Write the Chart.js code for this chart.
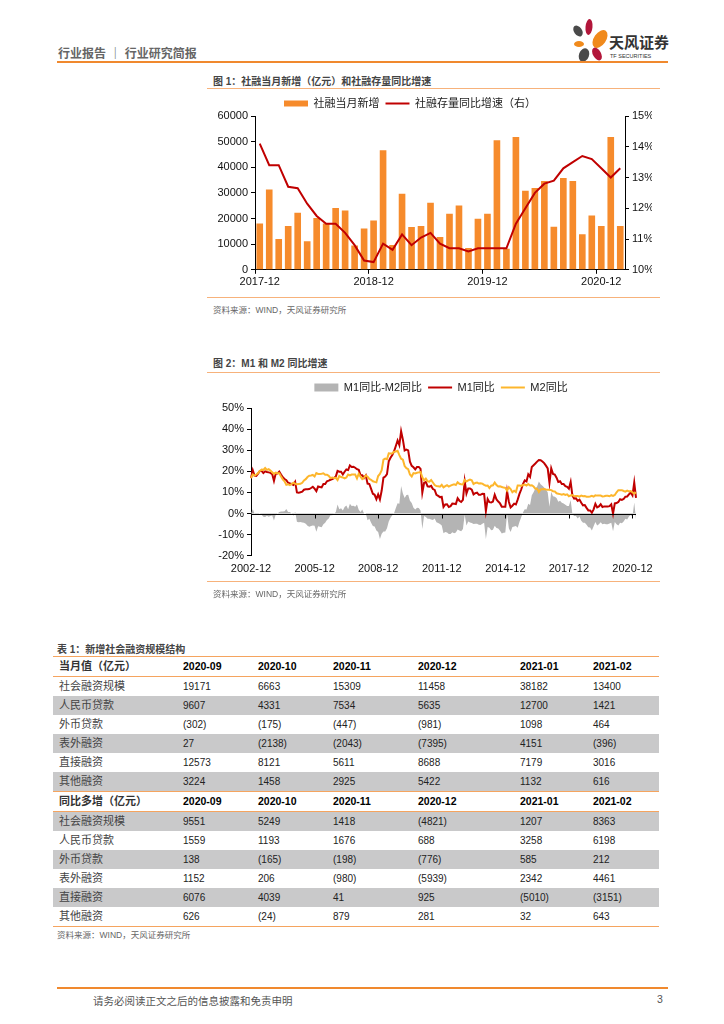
<!DOCTYPE html>
<html lang="zh-CN">
<head>
<meta charset="utf-8">
<title>行业研究简报</title>
<script src="https://cdn.jsdelivr.net/npm/chart.js@4.4.1/dist/chart.umd.min.js"></script>
<style>
  html, body { margin: 0; padding: 0; background: #fff; }
  body { width: 724px; height: 1024px; position: relative; overflow: hidden;
         font-family: "Liberation Sans", "Noto Sans CJK SC", sans-serif; color: #333; }
  .hdr { position: absolute; left: 58px; top: 44px; font-size: 12px; font-weight: bold; color: #666; }
  .rule { position: absolute; left: 57px; width: 611px; height: 2px; background: #F0892E; }
  .thin { position: absolute; left: 207px; width: 453px; height: 1px; background: #F7B27B; }
  .ftitle { position: absolute; font-size: 10px; font-weight: bold; color: #444; }
  .src { position: absolute; font-size: 8.5px; color: #666; }
  .logo { position: absolute; left: 568px; top: 18px; }
  canvas { position: absolute; }
  table { position: absolute; left: 53px; top: 656px; width: 606px; border-collapse: collapse;
          table-layout: fixed; font-size: 10px; }
  td { height: 19px; padding: 0 0 0 5px; line-height: 19px; white-space: nowrap; color: #222; }
  td.name { padding-left: 6px; font-size: 11px; color: #444; }
  tr.head td { font-weight: bold; font-size: 10.5px; color: #000;
               border-top: 1px solid #F5A45F; border-bottom: 1px solid #F5A45F; }
  tr.head td.name { font-size: 11px; color: #333; }
  tr.grey td { background: #C9C9CA; }
  tr.last td { border-bottom: 1px solid #F5A45F; }
  .foot { position: absolute; top: 993px; font-size: 10.5px; color: #555; }
</style>
</head>
<body>

<div class="hdr">行业报告 ｜ 行业研究简报</div>
<svg class="logo" width="104" height="46" viewBox="0 0 104 46">
  <ellipse cx="10" cy="13" rx="4" ry="6" transform="rotate(-35 10 13)" fill="#4A4A4A"/>
  <ellipse cx="21" cy="9" rx="3.5" ry="8" transform="rotate(5 21 9)" fill="#B2163A"/>
  <ellipse cx="32" cy="21" rx="6" ry="10" transform="rotate(35 32 21)" fill="#F08A1C"/>
  <ellipse cx="11" cy="26" rx="5" ry="3" fill="#F08A1C"/>
  <ellipse cx="16" cy="37" rx="5" ry="7" transform="rotate(20 16 37)" fill="#4A4A4A"/>
  <ellipse cx="29" cy="36" rx="4" ry="7" transform="rotate(-30 29 36)" fill="#B2163A"/>
  <text x="41" y="30" font-size="15" font-weight="bold" fill="#333" font-family="Noto Sans CJK SC">天风证券</text>
  <text x="42" y="40" font-size="5.5" fill="#333" font-family="Liberation Sans">TF SECURITIES</text>
</svg>
<div class="rule" style="top:61px"></div>

<div class="ftitle" style="left:213px; top:73px">图 1：社融当月新增（亿元）和社融存量同比增速</div>
<div class="thin" style="top:88px"></div>
<canvas id="sfChart" width="484" height="202" style="left:168px; top:92px"></canvas>
<div class="thin" style="top:297px"></div>
<div class="src" style="left:213px; top:303px">资料来源：WIND，天风证券研究所</div>

<div class="ftitle" style="left:213px; top:355px">图 2：M1 和 M2 同比增速</div>
<div class="thin" style="top:372px"></div>
<canvas id="moneyChart" width="472" height="210" style="left:205px; top:376px"></canvas>
<div class="thin" style="top:581px"></div>
<div class="src" style="left:213px; top:587px">资料来源：WIND，天风证券研究所</div>

<div class="ftitle" style="left:57px; top:641px">表 1：新增社会融资规模结构</div>
<table id="sfTable"></table>
<div class="src" style="left:57px; top:928px">资料来源：WIND，天风证券研究所</div>

<div class="rule" style="top:987px"></div>
<div class="foot" style="left:93px">请务必阅读正文之后的信息披露和免责申明</div>
<div class="foot" style="left:657px">3</div>

<script>
// 图1：社融当月新增（亿元），社融存量同比（%），2017-12 起
const sfNew = [18100, 31300, 12000, 17100, 22300, 11100, 20200, 18100, 24100, 23100, 9500, 16100,
  19200, 46600, 9700, 29700, 16700, 17100, 26200, 12800, 21900, 25100, 8500, 19900,
  21900, 50500, 8200, 51800, 30800, 31900, 34600, 16800, 35800, 34600, 13900, 21200,
  17100, 51800, 17100];
const sfStockYoy = [14.1, 13.4, 13.4, 12.7, 12.65, 12.15, 11.75, 11.5, 11.5, 11.2, 10.8, 10.3,
  10.25, 10.85, 10.65, 11.15, 10.8, 11.05, 11.2, 10.85, 10.7, 10.7, 10.6, 10.7,
  10.7, 10.7, 10.7, 11.5, 12.0, 12.5, 12.8, 12.9, 13.3, 13.5, 13.7, 13.6,
  13.3, 13.0, 13.3];

// 图2：M1、M2 同比（%），2002-12 至 2021-02
const m1Yoy = [16.8,
  20.5, 18.0, 17.8, 18.9, 20.2, 20.2, 19.2, 20.0, 19.7, 19.5, 19.3, 18.7,
  15.5, 19.0, 19.0, 19.9, 18.5, 17.2, 16.4, 15.8, 14.6, 14.3, 14.0, 13.6,
  15.0, 10.0, 9.9, 10.1, 10.4, 11.3, 11.5, 11.5, 11.6, 12.1, 12.7, 11.8,
  10.6, 12.8, 12.6, 12.4, 14.0, 14.0, 15.3, 15.6, 16.0, 16.3, 16.8, 17.5,
  20.2, 19.8, 19.8, 18.5, 19.8, 20.9, 20.6, 22.8, 22.1, 22.2, 21.7, 21.0,
  20.7, 18.2, 18.2, 16.9, 18.1, 14.2, 14.0, 11.7, 9.4, 8.9, 6.8, 9.1,
  6.7, 10.9, 17.0, 17.5, 18.7, 24.8, 26.4, 27.7, 29.5, 32.0, 34.6, 32.4,
  39.0, 35.0, 29.9, 30.3, 29.9, 24.6, 22.6, 21.9, 20.9, 22.1, 22.1, 21.2,
  9.9, 14.5, 15.0, 12.9, 12.7, 13.1, 11.6, 11.2, 8.9, 8.4, 7.8, 7.9,
  3.1, 4.3, 4.4, 3.1, 3.5, 4.7, 4.6, 4.5, 7.3, 6.1, 5.5, 6.5,
  15.3, 9.5, 11.9, 11.9, 11.3, 9.1, 9.7, 9.9, 8.9, 8.9, 9.4, 9.3,
  1.2, 6.9, 5.4, 5.3, 5.7, 8.9, 6.7, 5.7, 4.8, 3.2, 3.2, 3.2,
  10.6, 5.6, 2.9, 3.7, 4.7, 4.3, 6.6, 9.3, 11.4, 14.0, 15.7, 15.2,
  18.6, 17.4, 22.1, 22.9, 23.7, 24.6, 25.4, 25.3, 24.7, 23.9, 22.7, 21.4,
  14.5, 21.4, 18.8, 18.5, 17.0, 15.0, 15.3, 14.0, 14.0, 13.0, 12.7, 11.8,
  15.0, 8.5, 7.1, 7.2, 6.0, 6.6, 5.1, 3.9, 4.0, 2.7, 1.5, 1.5,
  0.4, 2.0, 4.6, 2.9, 3.4, 4.4, 3.1, 3.4, 3.4, 3.3, 3.5, 4.4,
  0.0, 4.8, 5.0, 5.5, 6.8, 6.5, 6.9, 8.0, 8.1, 9.1, 10.0, 8.6,
  14.7, 7.4];
const m2Yoy = [16.8,
  18.5, 18.0, 18.5, 19.2, 20.2, 20.8, 20.7, 21.6, 20.7, 21.0, 20.4, 19.6,
  18.8, 19.4, 19.1, 19.1, 17.5, 16.2, 15.3, 13.6, 13.9, 13.5, 14.0, 14.6,
  14.1, 13.9, 14.0, 14.1, 14.6, 15.7, 16.3, 17.3, 17.9, 18.0, 18.3, 17.6,
  19.2, 18.8, 18.8, 18.9, 19.1, 18.4, 18.4, 17.9, 16.8, 17.1, 16.8, 16.9,
  15.9, 17.8, 17.3, 17.1, 16.7, 17.1, 18.5, 18.1, 18.5, 18.5, 18.5, 16.7,
  18.9, 17.5, 16.3, 16.9, 18.1, 17.4, 16.4, 16.0, 15.3, 15.0, 14.8, 17.8,
  18.8, 20.5, 25.5, 26.0, 25.7, 28.5, 28.4, 28.5, 29.3, 29.4, 29.7, 27.7,
  26.0, 25.5, 22.5, 21.5, 21.0, 18.5, 17.6, 19.2, 19.0, 19.3, 19.5, 19.7,
  17.2, 15.7, 16.6, 15.3, 15.1, 15.9, 14.7, 13.5, 13.0, 12.9, 12.7, 13.6,
  12.4, 13.0, 13.4, 12.8, 13.2, 13.6, 13.9, 13.5, 14.8, 14.1, 13.9, 13.8,
  15.9, 15.2, 15.7, 16.1, 15.8, 14.0, 14.5, 14.7, 14.2, 14.3, 14.2, 13.6,
  13.2, 13.3, 12.1, 13.2, 13.4, 14.7, 13.5, 12.8, 12.9, 12.6, 12.3, 12.2,
  10.8, 12.5, 11.6, 10.1, 10.8, 10.2, 13.3, 13.3, 13.1, 13.5, 13.7, 13.3,
  14.0, 13.3, 13.4, 12.8, 11.8, 11.8, 10.2, 11.4, 11.5, 11.6, 11.4, 11.3,
  11.3, 11.1, 10.6, 10.5, 9.6, 9.4, 9.2, 8.9, 9.2, 8.8, 9.1, 8.2,
  8.6, 8.8, 8.2, 8.3, 8.3, 8.0, 8.5, 8.2, 8.3, 8.0, 8.0, 8.1,
  8.4, 8.0, 8.6, 8.5, 8.5, 8.5, 8.1, 8.2, 8.4, 8.4, 8.2, 8.7,
  8.4, 8.8, 10.1, 11.1, 11.1, 11.1, 10.7, 10.4, 10.9, 10.5, 10.7, 10.1,
  9.4, 10.1];

// 表1
const tableCols = ['2020-09', '2020-10', '2020-11', '2020-12', '2021-01', '2021-02'];
const tableColWidths = [125, 75, 75, 85, 102, 73, 71];
const rowNames = ['社会融资规模', '人民币贷款', '外币贷款', '表外融资', '直接融资', '其他融资'];
const monthlyRows = [
  ['19171', '6663', '15309', '11458', '38182', '13400'],
  ['9607', '4331', '7534', '5635', '12700', '1421'],
  ['(302)', '(175)', '(447)', '(981)', '1098', '464'],
  ['27', '(2138)', '(2043)', '(7395)', '4151', '(396)'],
  ['12573', '8121', '5611', '8688', '7179', '3016'],
  ['3224', '1458', '2925', '5422', '1132', '616']
];
const yoyRows = [
  ['9551', '5249', '1418', '(4821)', '1207', '8363'],
  ['1559', '1193', '1676', '688', '3258', '6198'],
  ['138', '(165)', '(198)', '(776)', '585', '212'],
  ['1152', '206', '(980)', '(5939)', '2342', '4461'],
  ['6076', '4039', '41', '925', '(5010)', '(3151)'],
  ['626', '(24)', '879', '281', '32', '643']
];

function monthLabels(year, month, count) {
  const out = [];
  for (let i = 0; i < count; i++) {
    out.push(year + '-' + String(month).padStart(2, '0'));
    month++;
    if (month > 12) { month = 1; year++; }
  }
  return out;
}

const sfMonths = monthLabels(2017, 12, sfNew.length);
const moneyMonths = monthLabels(2002, 12, m1Yoy.length);

Chart.defaults.font.family = '"Liberation Sans", "Noto Sans CJK SC", sans-serif';
Chart.defaults.font.size = 11;
Chart.defaults.color = '#111';

// pushes the plot area down below the legend
function legendGap(px) {
  return {
    id: 'legendGap',
    beforeInit(chart) {
      if (!chart.legend) return;
      const fit = chart.legend.fit;
      chart.legend.fit = function() {
        fit.call(this);
        this.height += px;
      };
    }
  };
}

// black 0% line with year tick marks, drawn over the grey area
const zeroAxis = {
  id: 'zeroAxis',
  afterDatasetsDraw(chart) {
    const { ctx, chartArea, scales } = chart;
    const y0 = Math.round(scales.y.getPixelForValue(0)) + 0.5;
    ctx.save();
    ctx.strokeStyle = '#000';
    ctx.lineWidth = 1;
    ctx.beginPath();
    ctx.moveTo(chartArea.left, y0);
    ctx.lineTo(chartArea.right, y0);
    for (let i = 0; i < moneyMonths.length; i += 36) {
      const px = Math.round(scales.x.getPixelForValue(i)) + 0.5;
      ctx.moveTo(px, y0);
      ctx.lineTo(px, y0 + 4);
    }
    ctx.stroke();
    ctx.restore();
  }
};

function legendOptions(boxHeight) {
  return {
    position: 'top',
    labels: {
      usePointStyle: true,
      pointStyleWidth: 24,
      boxHeight: boxHeight,
      padding: 6,
      color: '#222',
      font: { size: 11 },
      sort: (a, b) => a.datasetIndex - b.datasetIndex
    }
  };
}

function initSfChart() {
  new Chart(document.getElementById('sfChart'), {
    type: 'bar',
    data: {
      labels: sfMonths,
      datasets: [{
        label: '社融当月新增',
        data: sfNew,
        backgroundColor: '#F68B2C',
        barPercentage: 0.7,
        categoryPercentage: 1,
        yAxisID: 'y',
        pointStyle: 'rect',
        order: 2
      }, {
        type: 'line',
        label: '社融存量同比增速（右）',
        data: sfStockYoy,
        borderColor: '#C00000',
        backgroundColor: '#C00000',
        borderWidth: 2,
        pointRadius: 0,
        tension: 0,
        yAxisID: 'y1',
        pointStyle: 'line',
        order: 1
      }]
    },
    options: {
      responsive: false,
      animation: false,
      layout: { padding: { bottom: 3 } },
      plugins: {
        legend: legendOptions(6),
        tooltip: { enabled: false }
      },
      scales: {
        x: {
          offset: true,
          grid: {
            offset: true,
            drawOnChartArea: false,
            tickLength: 4,
            color: ctx => ctx.index % 12 === 0 ? '#000' : 'rgba(0,0,0,0)'
          },
          border: { color: '#000' },
          ticks: {
            autoSkip: false,
            maxRotation: 0,
            padding: 2,
            callback: (v, i) => i % 12 === 0 ? sfMonths[i] : ''
          }
        },
        y: {
          position: 'left',
          min: 0,
          max: 60000,
          ticks: { stepSize: 10000, callback: v => v },
          grid: { drawOnChartArea: false, tickLength: 4, color: '#000' },
          border: { color: '#000' },
          afterFit: s => { s.width = 87; }
        },
        y1: {
          position: 'right',
          min: 10,
          max: 15,
          ticks: { stepSize: 1, callback: v => v + '%' },
          grid: { drawOnChartArea: false, tickLength: 4, color: '#000' },
          border: { color: '#000' },
          afterFit: s => { s.width = 27; }
        }
      }
    },
    plugins: [legendGap(-3)]
  });
}

function initMoneyChart() {
  const spread = m1Yoy.map((v, i) => +(v - m2Yoy[i]).toFixed(1));

  new Chart(document.getElementById('moneyChart'), {
    type: 'line',
    data: {
      labels: moneyMonths,
      datasets: [{
        label: 'M1同比-M2同比',
        data: spread,
        fill: 'origin',
        backgroundColor: '#B4B4B4',
        borderWidth: 0,
        pointRadius: 0,
        pointStyle: 'rect',
        order: 3
      }, {
        label: 'M1同比',
        data: m1Yoy,
        borderColor: '#C00000',
        backgroundColor: '#C00000',
        borderWidth: 2,
        pointRadius: 0,
        pointStyle: 'line',
        order: 2
      }, {
        label: 'M2同比',
        data: m2Yoy,
        borderColor: '#FDB62C',
        backgroundColor: '#FDB62C',
        borderWidth: 2,
        pointRadius: 0,
        pointStyle: 'line',
        order: 1
      }]
    },
    options: {
      responsive: false,
      animation: false,
      layout: { padding: { bottom: 3 } },
      plugins: {
        legend: legendOptions(8),
        tooltip: { enabled: false }
      },
      scales: {
        x: {
          grid: { display: false, drawTicks: false },
          border: { display: false },
          ticks: {
            autoSkip: false,
            maxRotation: 0,
            padding: 7,
            callback: (v, i) => i % 36 === 0 ? moneyMonths[i] : ''
          }
        },
        y: {
          min: -20,
          max: 50,
          ticks: { stepSize: 10, callback: v => v + '%' },
          grid: { drawOnChartArea: false, tickLength: 4, color: '#000' },
          border: { color: '#000' },
          afterFit: s => { s.width = 46; }
        },
        // empty right axis, only keeps room for the last date label
        yPad: {
          position: 'right',
          grid: { display: false },
          border: { display: false },
          ticks: { display: false },
          afterFit: s => { s.width = 41; }
        }
      }
    },
    plugins: [legendGap(5), zeroAxis]
  });
}

function buildTable() {
  const table = document.getElementById('sfTable');
  let html = '<colgroup>' + tableColWidths.map(w => '<col style="width:' + w + 'px">').join('') + '</colgroup>';

  function headRow(title) {
    return '<tr class="head"><td class="name">' + title + '</td>' +
      tableCols.map(c => '<td>' + c + '</td>').join('') + '</tr>';
  }
  function bodyRows(rows, greyOdd, lastBlock) {
    return rows.map((r, i) => {
      const cls = [];
      if ((i % 2 === 1) === greyOdd) cls.push('grey');
      if (lastBlock && i === rows.length - 1) cls.push('last');
      return '<tr class="' + cls.join(' ') + '"><td class="name">' + rowNames[i] + '</td>' +
        r.map(v => '<td>' + v + '</td>').join('') + '</tr>';
    }).join('');
  }

  html += headRow('当月值（亿元）');
  html += bodyRows(monthlyRows, true, false);
  html += headRow('同比多增（亿元）');
  html += bodyRows(yoyRows, false, true);
  table.innerHTML = html;
}

document.addEventListener('DOMContentLoaded', function() {
  initSfChart();
  initMoneyChart();
  buildTable();
});
</script>
</body>
</html>
